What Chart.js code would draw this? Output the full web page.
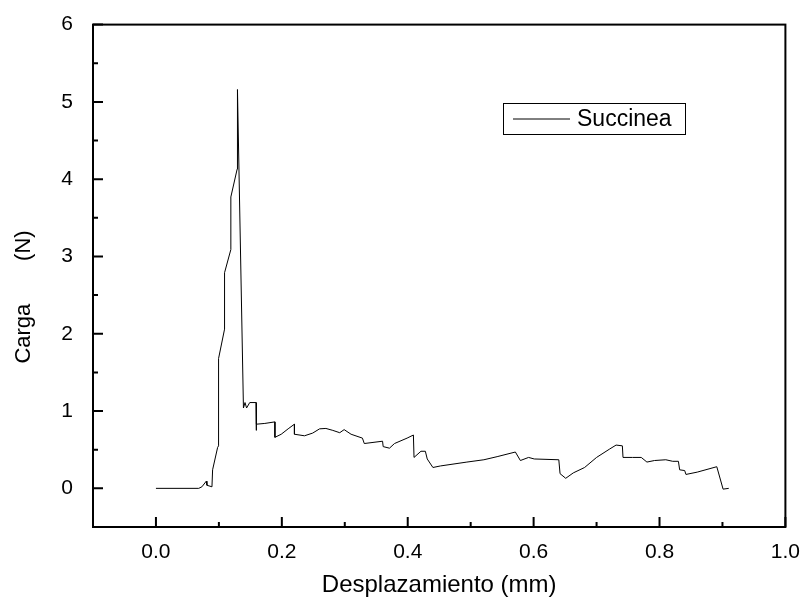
<!DOCTYPE html>
<html>
<head>
<meta charset="utf-8">
<script src="https://cdn.jsdelivr.net/npm/chart.js@4/dist/chart.umd.min.js"></script>
<style>
  body { margin: 0; background: #fff; }
  #wrap { width: 805px; height: 601px; }
</style>
</head>
<body>
<div id="wrap"><canvas id="myChart"></canvas></div>
<script>
// Curva carga-desplazamiento (Succinea)
const seriesName = 'Succinea';
const dispMm = [
  0, 0.068, 0.073, 0.080, 0.081, 0.089, 0.090, 0.098, 0.0995, 0.0995,
  0.109, 0.109, 0.119, 0.119, 0.129, 0.1295, 0.139, 0.1415, 0.144, 0.149,
  0.159, 0.159, 0.160, 0.173, 0.189, 0.189, 0.199, 0.210, 0.220, 0.220,
  0.236, 0.249, 0.260, 0.270, 0.281, 0.292, 0.299, 0.310, 0.328, 0.331,
  0.360, 0.361, 0.371, 0.379, 0.399, 0.409, 0.410, 0.421, 0.428, 0.431,
  0.440, 0.452, 0.494, 0.521, 0.542, 0.571, 0.579, 0.592, 0.601, 0.640,
  0.642, 0.651, 0.663, 0.681, 0.700, 0.721, 0.731, 0.741, 0.742, 0.757,
  0.771, 0.780, 0.792, 0.810, 0.821, 0.830, 0.832, 0.840, 0.842, 0.860,
  0.891, 0.901, 0.910
];
const loadN = [
  0, 0, 0.02, 0.093, 0.04, 0.02, 0.24, 0.53, 0.55, 1.68,
  2.06, 2.79, 3.09, 3.77, 4.13, 5.16, 1.04, 1.11, 1.04, 1.11,
  1.11, 0.75, 0.83, 0.84, 0.86, 0.66, 0.70, 0.77, 0.83, 0.70,
  0.68, 0.715, 0.77, 0.775, 0.75, 0.72, 0.76, 0.70, 0.65, 0.58,
  0.61, 0.54, 0.52, 0.58, 0.65, 0.69, 0.40, 0.48, 0.48, 0.38,
  0.27, 0.29, 0.34, 0.37, 0.41, 0.47, 0.36, 0.40, 0.38, 0.37,
  0.19, 0.13, 0.20, 0.27, 0.40, 0.51, 0.56, 0.55, 0.40, 0.40,
  0.40, 0.34, 0.36, 0.37, 0.35, 0.35, 0.24, 0.23, 0.18, 0.21,
  0.28, -0.01, 0.0
];

// ticks
const xTicks = [0.0, 0.2, 0.4, 0.6, 0.8, 1.0];
const xMinor = [0.1, 0.3, 0.5, 0.7, 0.9];
const yTicks = [0, 1, 2, 3, 4, 5, 6];
const yMinor = [0.5, 1.5, 2.5, 3.5, 4.5, 5.5];

const FONT = "'Liberation Sans', Arial, sans-serif";
const points = dispMm.map((x, i) => ({ x: x, y: loadN[i] }));

// marco, ticks hacia adentro, titulo Y y leyenda
const framePlugin = {
  id: 'frame',
  afterDraw(chart) {
    const { ctx, chartArea: a, scales: { x, y } } = chart;
    ctx.save();
    ctx.strokeStyle = '#000';
    ctx.lineWidth = 2;
    ctx.strokeRect(a.left, a.top, a.right - a.left, a.bottom - a.top);

    ctx.beginPath();
    xTicks.forEach(v => { const p = x.getPixelForValue(v); ctx.moveTo(p, a.bottom); ctx.lineTo(p, a.bottom - 10); });
    xMinor.forEach(v => { const p = x.getPixelForValue(v); ctx.moveTo(p, a.bottom); ctx.lineTo(p, a.bottom - 5); });
    yTicks.forEach(v => { const p = y.getPixelForValue(v); ctx.moveTo(a.left, p); ctx.lineTo(a.left + 10, p); });
    yMinor.forEach(v => { const p = y.getPixelForValue(v); ctx.moveTo(a.left, p); ctx.lineTo(a.left + 5, p); });
    ctx.stroke();

    // titulo eje Y
    ctx.fillStyle = '#000';
    ctx.font = '22px ' + FONT;
    ctx.textAlign = 'center';
    ctx.textBaseline = 'middle';
    ctx.translate(24, 297);
    ctx.rotate(-Math.PI / 2);
    ctx.fillText('Carga       (N)', 0, 0);
    ctx.setTransform(1, 0, 0, 1, 0, 0);

    // leyenda
    ctx.lineWidth = 1;
    ctx.strokeRect(503.5, 103.5, 182, 31);
    ctx.beginPath();
    ctx.moveTo(513, 119);
    ctx.lineTo(570, 119);
    ctx.stroke();
    ctx.font = '23px ' + FONT;
    ctx.textAlign = 'left';
    ctx.fillText(chart.data.datasets[0].label, 577, 120);
    ctx.restore();
  }
};

const chart = new Chart(document.getElementById('myChart'), {
  type: 'scatter',
  data: {
    datasets: [{
      label: seriesName,
      data: points,
      showLine: true,
      borderColor: '#000',
      borderWidth: 1,
      pointRadius: 0,
      tension: 0,
      fill: false
    }]
  },
  options: {
    responsive: true,
    maintainAspectRatio: false,
    animation: false,
    layout: { padding: { top: 15, right: 15, left: 0, bottom: 0 } },
    plugins: { legend: { display: false }, tooltip: { enabled: false } },
    scales: {
      x: {
        type: 'linear',
        min: -0.1,
        max: 1.0,
        afterBuildTicks: s => { s.ticks = xTicks.map(v => ({ value: v })); },
        afterFit: s => { s.height = 74; },
        grid: { display: false },
        border: { display: false },
        ticks: {
          callback: v => Number(v).toFixed(1),
          color: '#000',
          font: { family: FONT, size: 21 },
          padding: 5,
          maxRotation: 0,
          autoSkip: false
        },
        title: {
          display: true,
          text: 'Desplazamiento (mm)',
          color: '#000',
          font: { family: FONT, size: 24 },
          padding: { top: 0, bottom: 1 }
        }
      },
      y: {
        min: -0.5,
        max: 6,
        afterBuildTicks: s => { s.ticks = yTicks.map(v => ({ value: v })); },
        afterFit: s => { s.width = 93; },
        grid: { display: false },
        border: { display: false },
        ticks: {
          color: '#000',
          font: { family: FONT, size: 21 },
          padding: 12
        }
      }
    }
  },
  plugins: [framePlugin]
});
</script>
</body>
</html>
